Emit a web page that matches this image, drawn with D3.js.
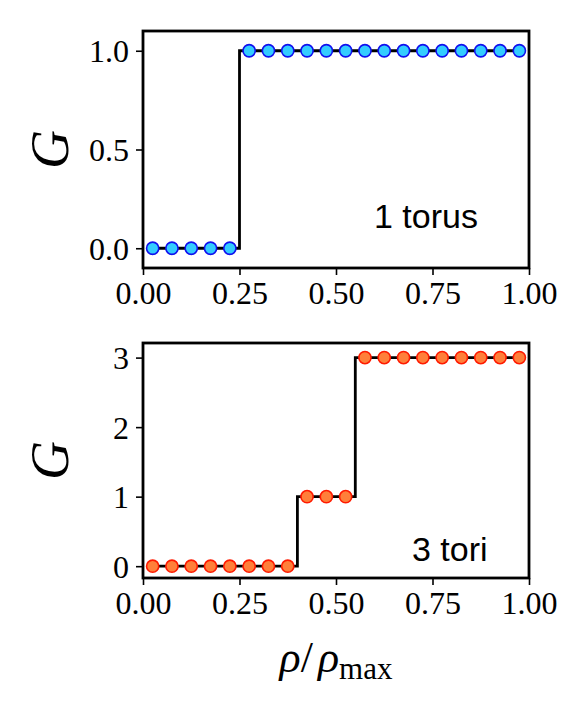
<!DOCTYPE html>
<html>
<head>
<meta charset="utf-8">
<script src="https://cdn.jsdelivr.net/npm/d3@7"></script>
<style>
    body { margin: 0; background: #fff; }
    svg { display: block; }
    .tick text { font-family: "Liberation Serif", serif; font-size: 32px; fill: #000; }
</style>
</head>
<body>
<div id="svg-container"></div>
<script>
// values
const rho = [0.025, 0.075, 0.125, 0.175, 0.225, 0.275, 0.325, 0.375, 0.425, 0.475,
             0.525, 0.575, 0.625, 0.675, 0.725, 0.775, 0.825, 0.875, 0.925, 0.975];
const gOneTorus = [0, 0, 0, 0, 0, 1, 1, 1, 1, 1, 1, 1, 1, 1, 1, 1, 1, 1, 1, 1];
const gThreeTori = [0, 0, 0, 0, 0, 0, 0, 0, 1, 1, 1, 3, 3, 3, 3, 3, 3, 3, 3, 3];
const xTicks = [0, 0.25, 0.5, 0.75, 1];
const yTicksTop = [0, 0.5, 1];
const yTicksBottom = [0, 1, 2, 3];

const width = 581, height = 711;
const svg = d3.select('#svg-container').append('svg')
    .attr('width', width)
    .attr('height', height);

const panels = [
    {
        values: gOneTorus, top: 31, bottom: 268, yDomain: [-0.1, 1.1],
        yTicks: yTicksTop, yFormat: d3.format('.1f'),
        fill: '#33ccff', edge: '#1010ee', label: '1 torus', labelX: 374, labelY: 228
    },
    {
        values: gThreeTori, top: 343, bottom: 578, yDomain: [-0.17, 3.21],
        yTicks: yTicksBottom, yFormat: d3.format('d'),
        fill: '#ff7f3a', edge: '#ff1a00', label: '3 tori', labelX: 412, labelY: 561
    }
];

const left = 143, right = 529;
const x = d3.scaleLinear().domain([0, 1]).range([left, right]);

panels.forEach(p => {
    const y = d3.scaleLinear().domain(p.yDomain).range([p.bottom, p.top]);
    const pts = rho.map((r, i) => [r, p.values[i]]);
    const g = svg.append('g');

    // step line, jumps half way between samples
    const line = d3.line()
        .x(d => x(d[0]))
        .y(d => y(d[1]))
        .curve(d3.curveStep);
    g.append('path')
        .datum(pts)
        .attr('d', line)
        .attr('fill', 'none')
        .attr('stroke', '#000')
        .attr('stroke-width', 2.8);

    g.selectAll('circle')
        .data(pts)
        .join('circle')
        .attr('cx', d => x(d[0]))
        .attr('cy', d => y(d[1]))
        .attr('r', 6.1)
        .attr('fill', p.fill)
        .attr('stroke', p.edge)
        .attr('stroke-width', 1.6);

    // axes
    const xAxis = d3.axisBottom(x)
        .tickValues(xTicks)
        .tickFormat(d3.format('.2f'))
        .tickSize(7)
        .tickPadding(6);
    const gx = g.append('g')
        .attr('transform', `translate(0,${p.bottom})`)
        .call(xAxis);
    gx.select('.domain').remove();
    gx.selectAll('.tick line').attr('stroke-width', 1.6);

    const yAxis = d3.axisLeft(y)
        .tickValues(p.yTicks)
        .tickFormat(p.yFormat)
        .tickSize(7)
        .tickPadding(7);
    const gy = g.append('g')
        .attr('transform', `translate(${left},0)`)
        .call(yAxis);
    gy.select('.domain').remove();
    gy.selectAll('.tick line').attr('stroke-width', 1.6);
    gy.selectAll('.tick text').attr('dy', '0.34em');

    // frame
    g.append('rect')
        .attr('x', left)
        .attr('y', p.top)
        .attr('width', right - left)
        .attr('height', p.bottom - p.top)
        .attr('fill', 'none')
        .attr('stroke', '#000')
        .attr('stroke-width', 2.8);

    // annotation
    g.append('text')
        .attr('x', p.labelX)
        .attr('y', p.labelY)
        .style('font-family', '"Liberation Sans", Arial, sans-serif')
        .style('font-size', '34px')
        .text(p.label);

    // y label
    g.append('text')
        .attr('transform', `translate(68,${(p.top + p.bottom) / 2}) rotate(-90)`)
        .attr('text-anchor', 'middle')
        .style('font-family', '"Liberation Serif", serif')
        .style('font-style', 'italic')
        .style('font-size', '54px')
        .text('G');
});

// x label
const xl = svg.append('text')
    .attr('x', (left + right) / 2)
    .attr('y', 672)
    .attr('text-anchor', 'middle')
    .style('font-family', '"Liberation Serif", serif')
    .style('font-size', '44px');
xl.append('tspan').style('font-style', 'italic').text('ρ');
xl.append('tspan').text('/');
xl.append('tspan').attr('dx', 5).style('font-style', 'italic').text('ρ');
xl.append('tspan').attr('dy', 7).style('font-size', '31px').text('max');
</script>
</body>
</html>
